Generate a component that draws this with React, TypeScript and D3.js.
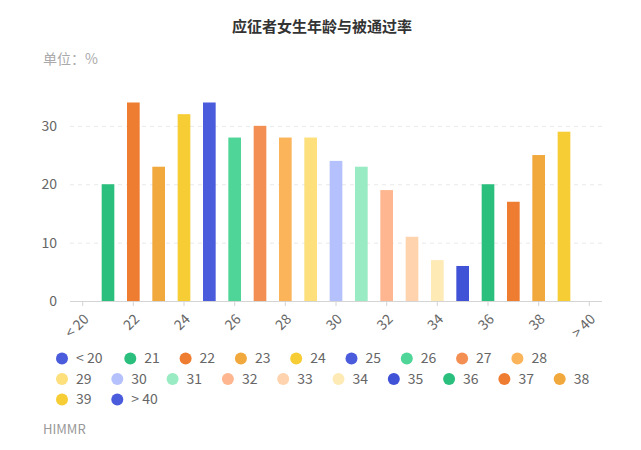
import React from "react";
import * as d3 from "d3";

const categories = ["< 20", "21", "22", "23", "24", "25", "26", "27", "28", "29", "30", "31", "32", "33", "34", "35", "36", "37", "38", "39", "> 40"];
const values = [0, 20, 34, 23, 32, 34, 28, 30, 28, 28, 24, 23, 19, 11, 7, 6, 20, 17, 25, 29, 0];
const colors = [
  "#4a5bdc", "#2bbf7e", "#ee7d31", "#f1a83c", "#f7cd35", "#4a5bdc", "#4fd597",
  "#f38f52", "#fbb45a", "#fddf7c", "#b4c1fc", "#98ebc2", "#fdb68f", "#fed3ad",
  "#feeab5", "#4052d6", "#2bbf7e", "#ee7d31", "#f1a83c", "#f7cd35", "#4a5bdc",
];
const xTickLabels = ["< 20", "22", "24", "26", "28", "30", "32", "34", "36", "38", "> 40"];
const yTicks = [0, 10, 20, 30];

const FONT = "'Noto Sans CJK SC', 'Noto Sans', sans-serif";

// rough label width, fonts may not be ready when measuring
const labelWidth = (s: string) =>
  s.split("").reduce((w, ch) => w + (ch === " " ? 5 : 8), 0);

const App = () => {
  const svgRef = React.useRef(null);
  const width = 641;
  const height = 450;
  const plot = { left: 70, right: 602, top: 102.5, bottom: 301 };

  React.useEffect(() => {
    const svg = d3.select(svgRef.current);
    svg.selectAll("*").remove();
    svg.style("font-family", FONT);

    const x = d3.scaleBand<string>()
      .domain(categories)
      .range([plot.left, plot.right])
      .paddingInner(0.5)
      .paddingOuter(0.25);
    const y = d3.scaleLinear()
      .domain([0, 34])
      .range([plot.bottom, plot.top]);

    // title + unit
    svg.append("text")
      .attr("x", 322).attr("y", 32)
      .attr("text-anchor", "middle")
      .attr("font-size", 15).attr("font-weight", "bold")
      .attr("fill", "#333")
      .text("应征者女生年龄与被通过率");
    svg.append("text")
      .attr("x", 43).attr("y", 64)
      .attr("font-size", 14).attr("fill", "#aaa")
      .text("单位：%");

    // y grid + labels
    const yAxis = d3.axisLeft(y).tickValues(yTicks).tickSize(-(plot.right - plot.left)).tickPadding(13);
    const yg = svg.append("g").attr("transform", `translate(${plot.left},0)`).call(yAxis);
    yg.select(".domain").remove();
    yg.selectAll("line")
      .attr("stroke", (d) => (d === 0 ? "none" : "#e9e9e9"))
      .attr("stroke-dasharray", "4,4");
    yg.selectAll("text")
      .attr("fill", "#666").attr("font-size", 14).attr("font-family", FONT);

    // x axis
    const xAxis = d3.axisBottom(x).tickValues(xTickLabels).tickSize(5).tickSizeOuter(0);
    const xg = svg.append("g").attr("transform", `translate(0,${plot.bottom})`).call(xAxis);
    xg.select(".domain").attr("stroke", "#d4d4d4").attr("d", `M${plot.left},0.5H${plot.right}`);
    xg.selectAll("line").attr("stroke", "#d4d4d4");
    xg.selectAll("text")
      .attr("fill", "#666").attr("font-size", 14).attr("font-family", FONT)
      .attr("text-anchor", "end")
      .attr("dy", null).attr("y", null)
      .attr("transform", "translate(7,19) rotate(-45)");

    // bars
    svg.append("g")
      .selectAll("rect")
      .data(values)
      .enter()
      .append("rect")
      .attr("x", (d, i) => x(categories[i]) as number)
      .attr("width", x.bandwidth())
      .attr("y", (d) => y(d))
      .attr("height", (d) => y(0) - y(d))
      .attr("fill", (d, i) => colors[i]);

    // legend, wraps like the original
    const legend = svg.append("g");
    let lx = 62;
    let ly = 358.5;
    const rowH = 20.5;
    categories.forEach((c, i) => {
      const tw = labelWidth(c);
      if (lx + 14 + tw > 600) {
        lx = 62;
        ly += rowH;
      }
      const item = legend.append("g").attr("transform", `translate(${lx},${ly})`);
      item.append("circle").attr("r", 6).attr("fill", colors[i]);
      item.append("text")
        .attr("x", 14)
        .attr("font-size", 14).attr("fill", "#666")
        .attr("dy", "0.35em")
        .text(c);
      lx += 14 + tw + 25.3;
    });

    svg.append("text")
      .attr("x", 43).attr("y", 434)
      .attr("font-size", 13).attr("fill", "#999")
      .text("HIMMR");
  }, []);

  return (
    <svg
      ref={svgRef}
      width={width}
      height={height}
      style={{ position: "absolute", left: 0, top: 0, background: "#fff" }}
    />
  );
};

export default App;
